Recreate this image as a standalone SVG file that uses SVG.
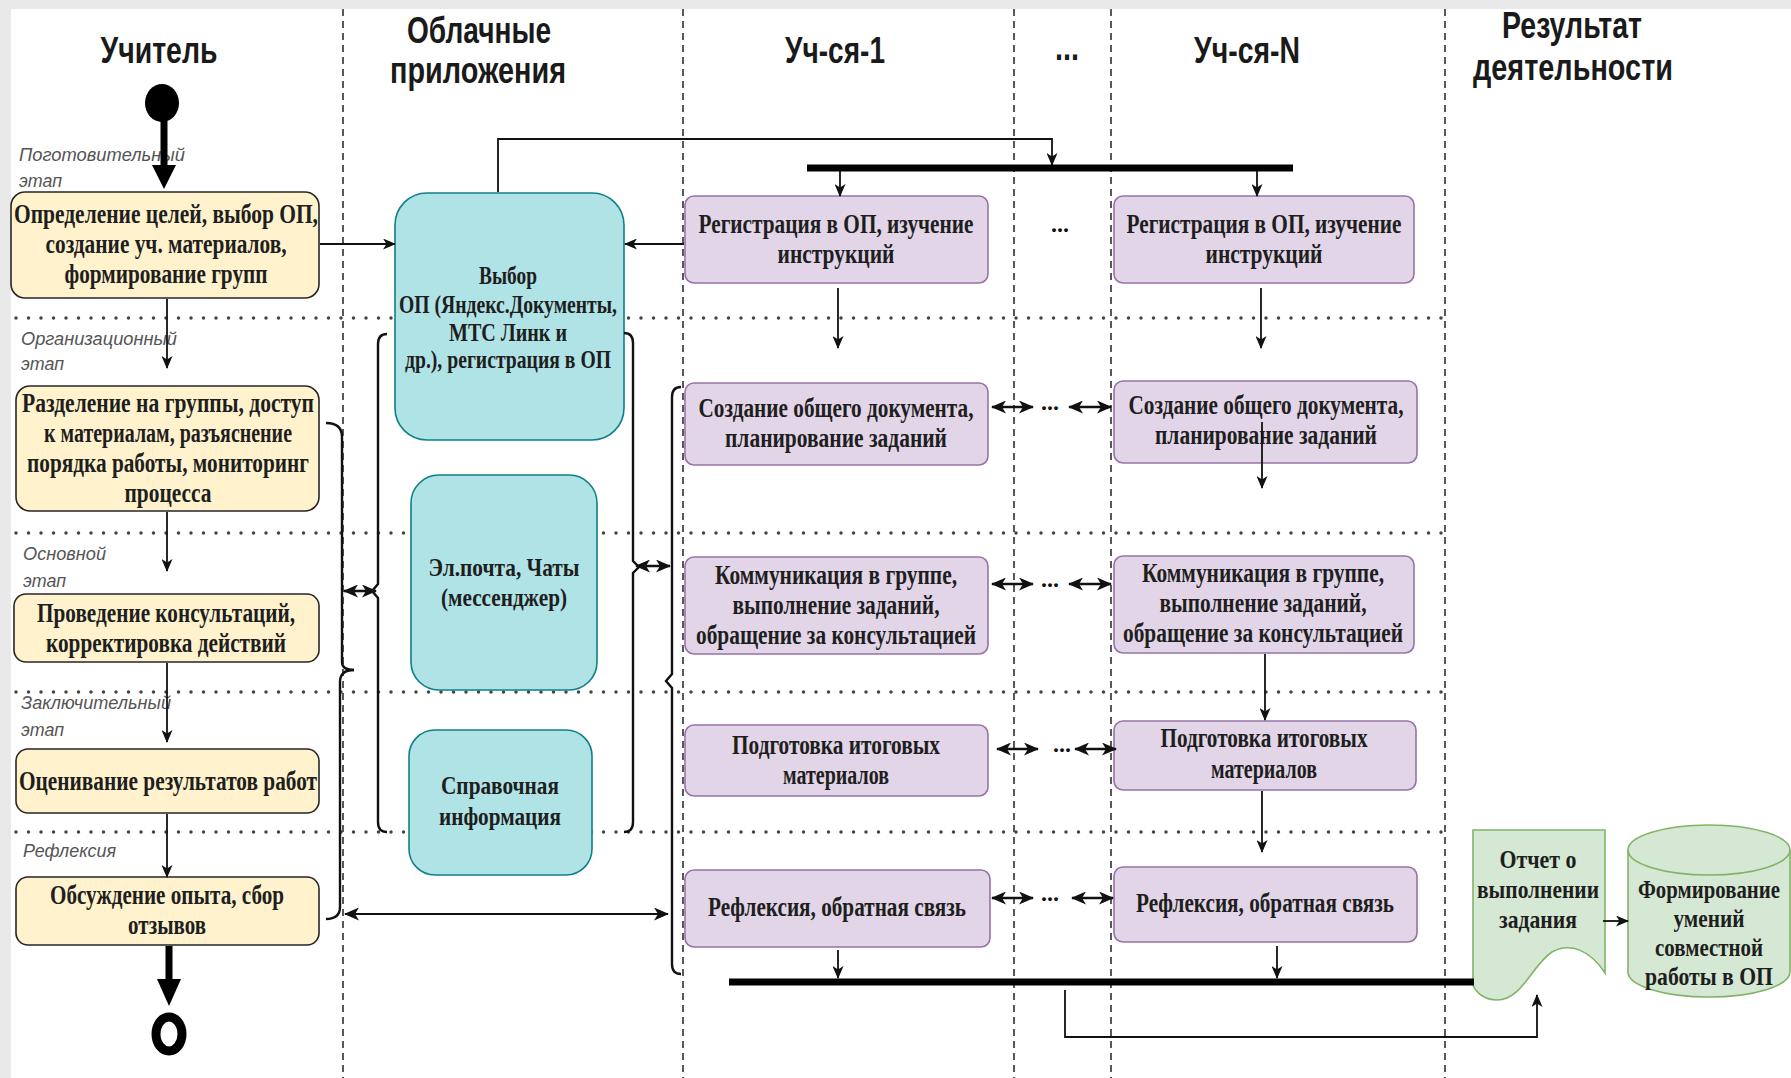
<svg xmlns="http://www.w3.org/2000/svg" width="1791" height="1078" viewBox="0 0 1791 1078">
<defs>
<style>
.h{font-family:"Liberation Sans",Arial,sans-serif;font-size:37px;font-weight:bold;fill:#1a1a1a;text-anchor:middle}
.ph{font-family:"Liberation Sans",Arial,sans-serif;font-style:italic;font-size:19px;fill:#555}
.t{font-family:"Liberation Serif","Times New Roman",serif;font-weight:bold;font-size:27px;fill:#1e1e1e;text-anchor:middle}
.tc{font-family:"Liberation Serif","Times New Roman",serif;font-weight:bold;font-size:25px;fill:#1e1e1e;text-anchor:middle}
.yb{fill:#fff2cc;stroke:#262626;stroke-width:1.6}
.cb{fill:#b0e3e6;stroke:#0e8088;stroke-width:1.6}
.pb{fill:#e1d5e7;stroke:#9673a6;stroke-width:1.6}
.gb{fill:#d5e8d4;stroke:#82b366;stroke-width:1.6}
.lane{stroke:#222;stroke-width:1.5;stroke-dasharray:7 5;fill:none}
.phase{stroke:#444;stroke-width:3.5;stroke-dasharray:0 12.5;stroke-linecap:round;fill:none}
.ln{stroke:#111;stroke-width:1.8;fill:none}
.dbl{stroke:#111;stroke-width:2.6;fill:none}
.br{stroke:#111;stroke-width:2.4;fill:none}
.bar{stroke:#000;stroke-width:7}
.dots{font-family:"Liberation Serif",serif;font-weight:bold;font-size:24px;fill:#111;text-anchor:middle}
</style>
<marker id="a" markerUnits="userSpaceOnUse" markerWidth="13" markerHeight="11" refX="12" refY="5.5" orient="auto"><path d="M0,0 L13,5.5 L0,11 L3.5,5.5 Z" fill="#111"/></marker>
<marker id="b" markerUnits="userSpaceOnUse" markerWidth="15" markerHeight="13" refX="14" refY="6.5" orient="auto-start-reverse"><path d="M0,0 L15,6.5 L0,13 L4,6.5 Z" fill="#111"/></marker>
</defs>

<rect x="0" y="0" width="1791" height="1078" fill="#e9e9e9"/>
<rect x="11" y="9" width="1780" height="1069" fill="#ffffff"/>

<g id="lanes">
<line class="lane" x1="343" y1="9" x2="343" y2="1078"/>
<line class="lane" x1="683" y1="9" x2="683" y2="1078"/>
<line class="lane" x1="1014" y1="9" x2="1014" y2="1078"/>
<line class="lane" x1="1111" y1="9" x2="1111" y2="1078"/>
<line class="lane" x1="1445" y1="9" x2="1445" y2="1078"/>
<line class="phase" x1="16" y1="318" x2="1445" y2="318"/>
<line class="phase" x1="16" y1="533" x2="1445" y2="533"/>
<line class="phase" x1="16" y1="692" x2="1445" y2="692"/>
<line class="phase" x1="16" y1="832" x2="1445" y2="832"/>
</g>

<g id="headers">
<text class="h" x="159" y="63" textLength="117" lengthAdjust="spacingAndGlyphs">Учитель</text>
<text class="h" x="479" y="43" textLength="144" lengthAdjust="spacingAndGlyphs">Облачные</text>
<text class="h" x="478" y="83" textLength="176" lengthAdjust="spacingAndGlyphs">приложения</text>
<text class="h" x="835" y="63" textLength="100" lengthAdjust="spacingAndGlyphs">Уч-ся-1</text>
<text class="h" x="1067" y="60" textLength="24" lengthAdjust="spacingAndGlyphs">...</text>
<text class="h" x="1247" y="63" textLength="106" lengthAdjust="spacingAndGlyphs">Уч-ся-N</text>
<text class="h" x="1572" y="38" textLength="140" lengthAdjust="spacingAndGlyphs">Результат</text>
<text class="h" x="1573" y="80" textLength="200" lengthAdjust="spacingAndGlyphs">деятельности</text>
</g>

<g id="phase-labels">
<text class="ph" x="19" y="161" textLength="166" lengthAdjust="spacingAndGlyphs">Поготовительный</text>
<text class="ph" x="19" y="187" textLength="43" lengthAdjust="spacingAndGlyphs">этап</text>
<text class="ph" x="21" y="345" textLength="156" lengthAdjust="spacingAndGlyphs">Организационный</text>
<text class="ph" x="21" y="370" textLength="43" lengthAdjust="spacingAndGlyphs">этап</text>
<text class="ph" x="23" y="560" textLength="83" lengthAdjust="spacingAndGlyphs">Основной</text>
<text class="ph" x="23" y="587" textLength="43" lengthAdjust="spacingAndGlyphs">этап</text>
<text class="ph" x="21" y="709" textLength="150" lengthAdjust="spacingAndGlyphs">Заключительный</text>
<text class="ph" x="21" y="736" textLength="43" lengthAdjust="spacingAndGlyphs">этап</text>
<text class="ph" x="23" y="857" textLength="93" lengthAdjust="spacingAndGlyphs">Рефлексия</text>
</g>

<g id="start"><ellipse cx="162" cy="103" rx="17" ry="19" fill="#000"/></g>
<g id="end"><ellipse cx="169" cy="1034" rx="13" ry="17" fill="#fff" stroke="#000" stroke-width="9"/></g>

<g id="t1"><rect class="yb" x="11" y="192" width="308" height="106" rx="14"/>
<text class="t" x="166" y="223" textLength="304" lengthAdjust="spacingAndGlyphs">Определение целей, выбор ОП,</text>
<text class="t" x="166" y="253" textLength="241" lengthAdjust="spacingAndGlyphs">создание уч. материалов,</text>
<text class="t" x="166" y="283" textLength="203" lengthAdjust="spacingAndGlyphs">формирование групп</text></g>
<g id="t2"><rect class="yb" x="16" y="386" width="303" height="125" rx="14"/>
<text class="t" x="168" y="412" textLength="292" lengthAdjust="spacingAndGlyphs">Разделение на группы, доступ</text>
<text class="t" x="168" y="442" textLength="248" lengthAdjust="spacingAndGlyphs">к материалам, разъяснение</text>
<text class="t" x="168" y="472" textLength="282" lengthAdjust="spacingAndGlyphs">порядка работы, мониторинг</text>
<text class="t" x="168" y="502" textLength="87" lengthAdjust="spacingAndGlyphs">процесса</text></g>
<g id="t3"><rect class="yb" x="14" y="594" width="305" height="68" rx="12"/>
<text class="t" x="166" y="622" textLength="258" lengthAdjust="spacingAndGlyphs">Проведение консультаций,</text>
<text class="t" x="166" y="652" textLength="240" lengthAdjust="spacingAndGlyphs">корректировка действий</text></g>
<g id="t4"><rect class="yb" x="16" y="749" width="303" height="64" rx="12"/>
<text class="t" x="168" y="790" textLength="298" lengthAdjust="spacingAndGlyphs">Оценивание результатов работ</text></g>
<g id="t5"><rect class="yb" x="16" y="877" width="303" height="68" rx="12"/>
<text class="t" x="167" y="904" textLength="234" lengthAdjust="spacingAndGlyphs">Обсуждение опыта, сбор</text>
<text class="t" x="167" y="934" textLength="78" lengthAdjust="spacingAndGlyphs">отзывов</text></g>

<g id="c1"><rect class="cb" x="395" y="193" width="229" height="247" rx="32"/>
<text class="tc" x="508" y="284" textLength="58" lengthAdjust="spacingAndGlyphs">Выбор</text>
<text class="tc" x="508" y="313" textLength="218" lengthAdjust="spacingAndGlyphs">ОП (Яндекс.Документы,</text>
<text class="tc" x="508" y="341" textLength="118" lengthAdjust="spacingAndGlyphs">МТС Линк и</text>
<text class="tc" x="508" y="368" textLength="206" lengthAdjust="spacingAndGlyphs">др.), регистрация в ОП</text></g>
<g id="c2"><rect class="cb" x="411" y="475" width="186" height="215" rx="28"/>
<text class="tc" x="504" y="576" textLength="151" lengthAdjust="spacingAndGlyphs">Эл.почта, Чаты</text>
<text class="tc" x="504" y="606" textLength="126" lengthAdjust="spacingAndGlyphs">(мессенджер)</text></g>
<g id="c3"><rect class="cb" x="409" y="730" width="183" height="145" rx="26"/>
<text class="tc" x="500" y="794" textLength="118" lengthAdjust="spacingAndGlyphs">Справочная</text>
<text class="tc" x="500" y="825" textLength="122" lengthAdjust="spacingAndGlyphs">информация</text></g>

<g id="s1-1"><rect class="pb" x="685" y="196" width="303" height="87" rx="9"/>
<text class="t" x="836" y="233" textLength="275" lengthAdjust="spacingAndGlyphs">Регистрация в ОП, изучение</text>
<text class="t" x="836" y="263" textLength="117" lengthAdjust="spacingAndGlyphs">инструкций</text></g>
<g id="s1-2"><rect class="pb" x="685" y="383" width="303" height="82" rx="9"/>
<text class="t" x="836" y="417" textLength="275" lengthAdjust="spacingAndGlyphs">Создание общего документа,</text>
<text class="t" x="836" y="447" textLength="222" lengthAdjust="spacingAndGlyphs">планирование заданий</text></g>
<g id="s1-3"><rect class="pb" x="685" y="557" width="303" height="97" rx="9"/>
<text class="t" x="836" y="584" textLength="242" lengthAdjust="spacingAndGlyphs">Коммуникация в группе,</text>
<text class="t" x="836" y="614" textLength="207" lengthAdjust="spacingAndGlyphs">выполнение заданий,</text>
<text class="t" x="836" y="644" textLength="280" lengthAdjust="spacingAndGlyphs">обращение за консультацией</text></g>
<g id="s1-4"><rect class="pb" x="685" y="725" width="303" height="71" rx="9"/>
<text class="t" x="836" y="754" textLength="208" lengthAdjust="spacingAndGlyphs">Подготовка итоговых</text>
<text class="t" x="836" y="784" textLength="106" lengthAdjust="spacingAndGlyphs">материалов</text></g>
<g id="s1-5"><rect class="pb" x="685" y="870" width="305" height="77" rx="9"/>
<text class="t" x="837" y="916" textLength="258" lengthAdjust="spacingAndGlyphs">Рефлексия, обратная связь</text></g>

<g id="sn-1"><rect class="pb" x="1114" y="196" width="300" height="87" rx="9"/>
<text class="t" x="1264" y="233" textLength="275" lengthAdjust="spacingAndGlyphs">Регистрация в ОП, изучение</text>
<text class="t" x="1264" y="263" textLength="117" lengthAdjust="spacingAndGlyphs">инструкций</text></g>
<g id="sn-2"><rect class="pb" x="1114" y="381" width="303" height="82" rx="9"/>
<text class="t" x="1266" y="414" textLength="275" lengthAdjust="spacingAndGlyphs">Создание общего документа,</text>
<text class="t" x="1266" y="444" textLength="222" lengthAdjust="spacingAndGlyphs">планирование заданий</text></g>
<g id="sn-3"><rect class="pb" x="1114" y="556" width="300" height="97" rx="9"/>
<text class="t" x="1263" y="582" textLength="242" lengthAdjust="spacingAndGlyphs">Коммуникация в группе,</text>
<text class="t" x="1263" y="612" textLength="207" lengthAdjust="spacingAndGlyphs">выполнение заданий,</text>
<text class="t" x="1263" y="642" textLength="280" lengthAdjust="spacingAndGlyphs">обращение за консультацией</text></g>
<g id="sn-4"><rect class="pb" x="1114" y="721" width="302" height="69" rx="9"/>
<text class="t" x="1264" y="747" textLength="207" lengthAdjust="spacingAndGlyphs">Подготовка итоговых</text>
<text class="t" x="1264" y="778" textLength="106" lengthAdjust="spacingAndGlyphs">материалов</text></g>
<g id="sn-5"><rect class="pb" x="1114" y="867" width="303" height="75" rx="9"/>
<text class="t" x="1265" y="912" textLength="258" lengthAdjust="spacingAndGlyphs">Рефлексия, обратная связь</text></g>

<g id="report"><path class="gb" d="M1473,830 H1605 V973 C1590,950 1570,942 1552,952 C1532,965 1522,1000 1497,1000 C1485,1000 1476,993 1473,985 Z"/>
<text class="tc" x="1538" y="868" textLength="77" lengthAdjust="spacingAndGlyphs">Отчет о</text>
<text class="tc" x="1538" y="898" textLength="122" lengthAdjust="spacingAndGlyphs">выполнении</text>
<text class="tc" x="1538" y="928" textLength="78" lengthAdjust="spacingAndGlyphs">задания</text></g>
<g id="skills"><path class="gb" d="M1628,850 A81,25 0 0 1 1790,850 V972 A81,25 0 0 1 1628,972 Z"/>
<path d="M1628,850 A81,25 0 0 0 1790,850" fill="none" stroke="#82b366" stroke-width="1.6"/>
<text class="tc" x="1709" y="898" textLength="142" lengthAdjust="spacingAndGlyphs">Формирование</text>
<text class="tc" x="1709" y="927" textLength="71" lengthAdjust="spacingAndGlyphs">умений</text>
<text class="tc" x="1709" y="956" textLength="108" lengthAdjust="spacingAndGlyphs">совместной</text>
<text class="tc" x="1709" y="985" textLength="128" lengthAdjust="spacingAndGlyphs">работы в ОП</text></g>

<g id="connectors">
<line x1="164" y1="120" x2="164" y2="168" stroke="#000" stroke-width="7"/>
<polygon points="152,165 176,165 164,189" fill="#000"/>
<line x1="169" y1="946" x2="169" y2="982" stroke="#000" stroke-width="7"/>
<polygon points="157,979 181,979 169,1006" fill="#000"/>
<line class="ln" x1="167" y1="299" x2="167" y2="368" marker-end="url(#a)"/>
<line class="ln" x1="167" y1="512" x2="167" y2="571" marker-end="url(#a)"/>
<line class="ln" x1="167" y1="663" x2="167" y2="742" marker-end="url(#a)"/>
<line class="ln" x1="167" y1="814" x2="167" y2="877" marker-end="url(#a)"/>
<line class="ln" x1="320" y1="244" x2="395" y2="244" marker-end="url(#a)"/>
<line class="ln" x1="684" y1="244" x2="625" y2="244" marker-end="url(#a)"/>
<path class="ln" d="M498,192 V139 H1052 V165" marker-end="url(#a)"/>
<line class="bar" x1="807" y1="168" x2="1293" y2="168"/>
<line class="ln" x1="840" y1="171" x2="840" y2="196" marker-end="url(#a)"/>
<line class="ln" x1="1257" y1="171" x2="1257" y2="196" marker-end="url(#a)"/>
<line class="ln" x1="838" y1="288" x2="838" y2="348" marker-end="url(#a)"/>
<line class="ln" x1="1261" y1="288" x2="1261" y2="348" marker-end="url(#a)"/>
<line class="ln" x1="1262" y1="422" x2="1262" y2="488" marker-end="url(#a)"/>
<line class="ln" x1="1265" y1="654" x2="1265" y2="720" marker-end="url(#a)"/>
<line class="ln" x1="1262" y1="791" x2="1262" y2="852" marker-end="url(#a)"/>
<line class="ln" x1="838" y1="950" x2="838" y2="978" marker-end="url(#a)"/>
<line class="ln" x1="1277" y1="946" x2="1277" y2="978" marker-end="url(#a)"/>
<line class="bar" x1="729" y1="982" x2="1474" y2="982"/>
<path class="ln" d="M1065,990 V1037 H1537 V995" marker-end="url(#a)"/>
<line class="ln" x1="1603" y1="921" x2="1628" y2="921" marker-end="url(#a)"/>
<line class="dbl" x1="992" y1="407" x2="1033" y2="407" marker-start="url(#b)" marker-end="url(#b)"/>
<text class="dots" x="1050" y="410">...</text>
<line class="dbl" x1="1069" y1="407" x2="1111" y2="407" marker-start="url(#b)" marker-end="url(#b)"/>
<line class="dbl" x1="992" y1="584" x2="1033" y2="584" marker-start="url(#b)" marker-end="url(#b)"/>
<text class="dots" x="1050" y="587">...</text>
<line class="dbl" x1="1069" y1="584" x2="1111" y2="584" marker-start="url(#b)" marker-end="url(#b)"/>
<line class="dbl" x1="997" y1="749" x2="1038" y2="749" marker-start="url(#b)" marker-end="url(#b)"/>
<text class="dots" x="1062" y="752">...</text>
<line class="dbl" x1="1075" y1="749" x2="1116" y2="749" marker-start="url(#b)" marker-end="url(#b)"/>
<line class="dbl" x1="992" y1="898" x2="1033" y2="898" marker-start="url(#b)" marker-end="url(#b)"/>
<text class="dots" x="1050" y="901">...</text>
<line class="dbl" x1="1072" y1="898" x2="1113" y2="898" marker-start="url(#b)" marker-end="url(#b)"/>
<text class="dots" x="1060" y="232">...</text>
<path class="br" d="M326,423 Q342,423 342,437 L342,662 Q342,670 354,670"/>
<path class="br" d="M354,670 Q340,670 340,682 L340,907 Q340,919 326,919"/>
<path class="br" d="M387,334 Q378,334 378,344 L378,584 L372,591 L378,598 L378,822 Q378,832 387,832"/>
<path class="br" d="M624,333 Q633,333 633,343 L633,561 L639,567 L633,573 L633,822 Q633,832 624,832"/>
<path class="br" d="M681,387 Q672,387 672,397 L672,674 L666,681 L672,688 L672,964 Q672,974 681,974"/>
<line class="dbl" x1="344" y1="591" x2="376" y2="591" marker-start="url(#b)" marker-end="url(#b)"/>
<line class="dbl" x1="636" y1="566" x2="670" y2="566" marker-start="url(#b)" marker-end="url(#b)"/>
<line class="ln" x1="345" y1="914" x2="668" y2="914" marker-start="url(#b)" marker-end="url(#b)"/>
</g>
</svg>
